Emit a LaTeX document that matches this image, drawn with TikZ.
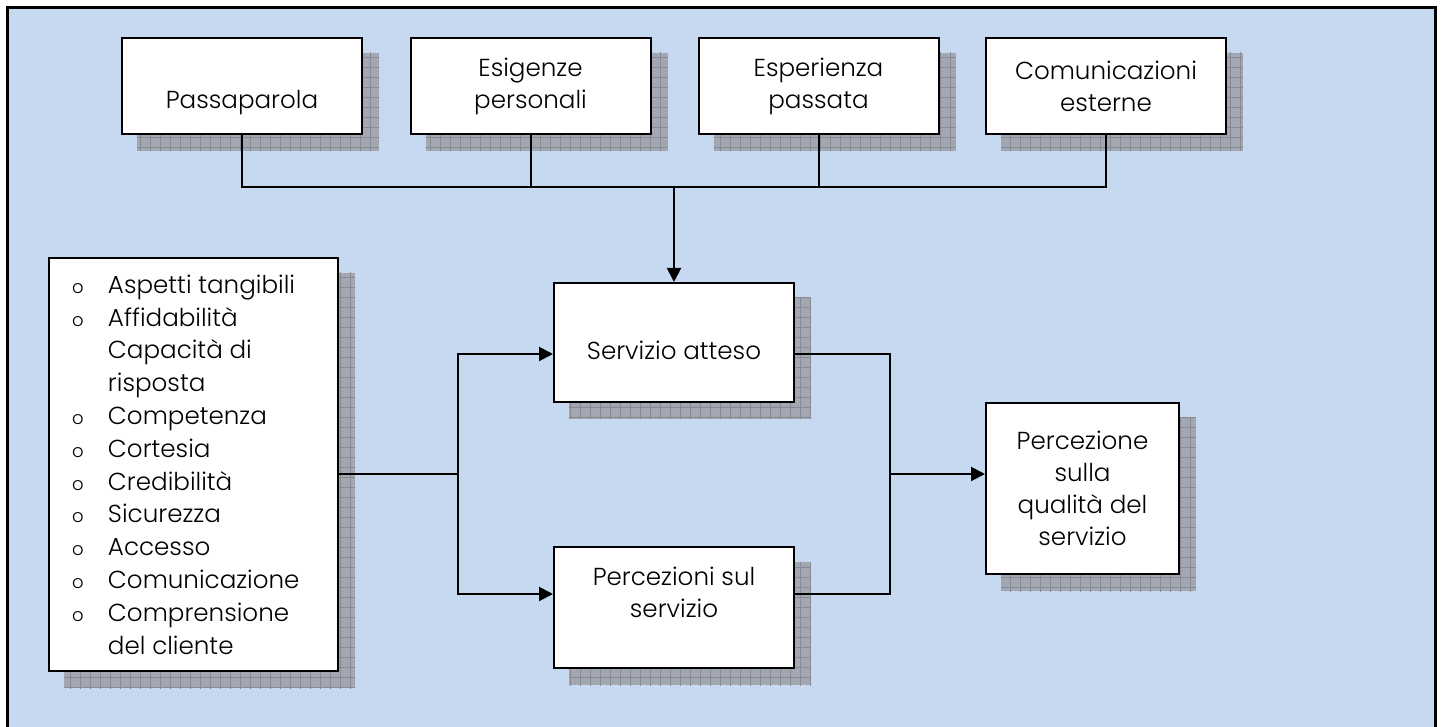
\documentclass[tikz,border=0pt]{standalone}
\usepackage{fontspec}
\setmainfont{Poppins}[UprightFont={* Light}]
\usetikzlibrary{arrows.meta,calc,backgrounds,patterns.meta}
\definecolor{bgblue}{RGB}{198,217,241}
\definecolor{shfill}{RGB}{163,167,178}
\definecolor{shgrid}{RGB}{135,138,146}
\newcommand\lbul[1]{\noindent\hspace*{12.25pt}\makebox[0pt]{\fontsize{9}{10}\selectfont o}\hspace*{15pt}#1\par}
\newcommand\lcont[1]{\noindent\hspace*{27.25pt}#1\par}
\begin{document}
\begin{tikzpicture}[x=0.5pt,y=-0.5pt,
  txt/.style={font=\fontsize{12.3}{16}\selectfont, inner sep=0pt, align=center},
  box/.style={draw=black, line width=1pt, fill=white, txt},
  conn/.style={line width=1pt},
  arr/.style={conn, -{Triangle[length=7pt,width=7pt]}},
  shadowrect/.style={fill=shfill, postaction={pattern={Hatch[distance=5pt,line width=0.4pt]}, pattern color=shgrid}}]
\useasboundingbox (0,0) rectangle (1442,727);
% top boxes
\node[box, minimum width=120pt, minimum height=48pt] (p1) at (242,86) {\vphantom{Esigenze}\\Passaparola};
\node[box, minimum width=120pt, minimum height=48pt] (p2) at (530.5,86) {Esigenze\\personali};
\node[box, minimum width=120pt, minimum height=48pt] (p3) at (818.5,86) {Esperienza\\passata};
\node[box, minimum width=120pt, minimum height=48pt] (p4) at (1106,86) {Comunicazioni\\esterne};
% middle boxes
\node[box, minimum width=120pt, minimum height=59.5pt,
  label={[txt,yshift=-4pt]center:Servizio atteso}] (sa) at (674,342.5) {};
\node[box, minimum width=120pt, minimum height=60.5pt,
  label={[txt,yshift=7.75pt]center:Percezioni sul\\servizio}] (pv) at (674,607.5) {};
\node[box, minimum width=96.5pt, minimum height=85.5pt] (pq) at (1082.5,488.5)
  {Percezione\\sulla\\qualità del\\servizio};
% list box
\node[box, minimum width=144.5pt, minimum height=206.5pt] (lb) at (193.5,464.5)
 {\begin{minipage}{140pt}\fontsize{12.3}{16.4}\selectfont
  \lbul{Aspetti tangibili}
  \lbul{Affidabilità}
  \lcont{Capacità di}
  \lcont{risposta}
  \lbul{Competenza}
  \lbul{Cortesia}
  \lbul{Credibilità}
  \lbul{Sicurezza}
  \lbul{Accesso}
  \lbul{Comunicazione}
  \lbul{Comprensione}
  \lcont{del cliente}
  \end{minipage}};
% background and shadows
\begin{scope}[on background layer]
  \fill[bgblue] (7.5,7.5) rectangle (1435.5,760);
  \foreach \n in {p1,p2,p3,p4,lb,sa,pv,pq}
    \path[shadowrect] ($(\n.south west)+(16,16)$) rectangle ($(\n.north east)+(16,16)$);
\end{scope}
% connectors
\coordinate (bus) at (674,187);
\draw[conn] (p1.south) |- (p4.south |- bus) -- (p4.south);
\draw[conn] (p2.south) -- (p2.south |- bus);
\draw[conn] (p3.south) -- (p3.south |- bus);
\draw[arr] (bus) -- (sa.north);
\coordinate (lj) at (458,474);
\draw[conn] (lb.east |- lj) -- (lj);
\draw[arr] (lj) |- ($(sa.west)+(0,11.5)$);
\draw[arr] (lj) |- ($(pv.west)+(0,-13.5)$);
\coordinate (rj) at (890,474);
\draw[conn] ($(sa.east)+(0,11.5)$) -| (rj) |- ($(pv.east)+(0,-13.5)$);
\draw[arr] (rj) -- (rj -| pq.west);
% outer frame
\draw[line width=1.5pt] (7.5,7.5) rectangle (1435.5,760);
\end{tikzpicture}
\end{document}
